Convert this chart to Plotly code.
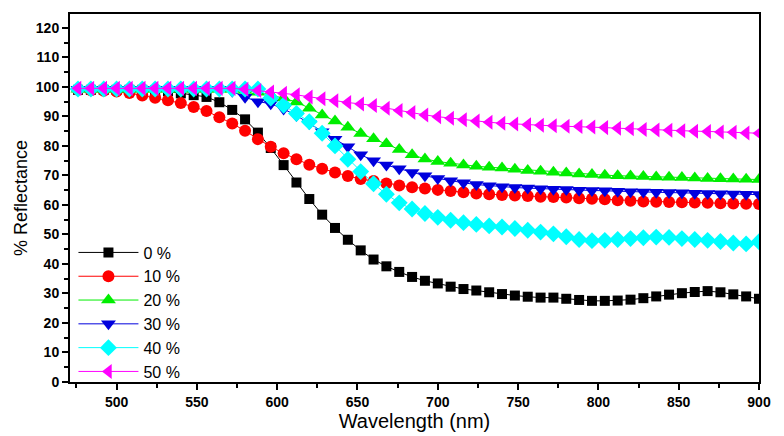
import plotly.graph_objects as go

wavelength = [476, 484, 492, 500, 508, 516, 524, 532, 540, 548, 556, 564, 572, 580, 588, 596,
              604, 612, 620, 628, 636, 644, 652, 660, 668, 676, 684, 692, 700, 708, 716, 724,
              732, 740, 748, 756, 764, 772, 780, 788, 796, 804, 812, 820, 828, 836, 844, 852,
              860, 868, 876, 884, 892, 900]

r0 = [99, 99, 99, 99, 99, 99, 98.8, 98.5, 97.8, 97.2, 96.6, 94.8, 92.2, 89, 84.5, 79.3,
      73.5, 67.6, 62, 56.7, 52.2, 48.2, 44.6, 41.5, 39.2, 37.3, 35.6, 34.3, 33.4, 32.3, 31.5, 31,
      30.4, 29.8, 29.3, 28.9, 28.6, 28.6, 28.2, 27.8, 27.5, 27.5, 27.6, 27.9, 28.4, 29, 29.6, 30.1,
      30.5, 30.8, 30.4, 29.7, 29, 28.2]
r10 = [99, 98.9, 98.7, 98.4, 97.9, 97.1, 96.3, 95.5, 94.5, 93.2, 91.8, 89.7, 87.6, 85.1, 82.3, 79.7,
       77.5, 75.5, 73.6, 72.3, 71, 69.8, 68.8, 68.1, 67.3, 66.6, 66, 65.6, 65.1, 64.7, 64.3, 63.9,
       63.6, 63.4, 63.2, 63, 62.8, 62.7, 62.5, 62.3, 62.1, 61.9, 61.6, 61.4, 61.2, 61.1, 61, 60.9,
       60.8, 60.7, 60.6, 60.5, 60.4, 60.3]
r20 = [99.2, 99.2, 99.2, 99.2, 99.2, 99.2, 99.2, 99.2, 99.2, 99.2, 99.2, 99.2, 99.2, 98.8, 98.2, 97.3,
       96.2, 94.9, 92.8, 90.5, 88.4, 86.3, 84.2, 82.4, 80.7, 78.8, 77, 75.6, 74.7, 74.1, 73.5, 73.1,
       72.8, 72.5, 72.1, 71.7, 71.4, 71.1, 70.8, 70.5, 70.3, 70.1, 69.9, 69.8, 69.6, 69.5, 69.4, 69.3,
       69.1, 69, 68.9, 68.8, 68.7, 68.6]
r30 = [99.2, 99.2, 99.2, 99.2, 99.2, 99.2, 99.2, 99.2, 99.2, 99.2, 99.2, 99.2, 98.5, 96.5, 95, 94.3,
       92.5, 90.3, 87.6, 84.8, 82.3, 79.7, 77, 75, 73.5, 72.3, 71, 69.9, 69, 68.2, 67.5, 66.9,
       66.5, 66.2, 65.9, 65.7, 65.5, 65.3, 65.2, 65, 64.9, 64.8, 64.6, 64.5, 64.4, 64.3, 64.2, 64.1,
       64, 63.9, 63.8, 63.7, 63.6, 63.5]
r40 = [99.3, 99.3, 99.3, 99.3, 99.3, 99.3, 99.3, 99.3, 99.3, 99.3, 99.3, 99.3, 99.3, 99.3, 99.3, 96.2,
       93.8, 91, 88.2, 84.3, 80, 75.5, 71.3, 67.2, 63.6, 60.7, 58.6, 57.1, 55.8, 54.8, 54, 53.4,
       52.9, 52.5, 52, 51.4, 50.8, 50.2, 49.2, 48.3, 47.9, 48, 48.3, 48.6, 48.9, 49.1, 49, 48.6,
       48.3, 48, 47.6, 47.1, 46.8, 47.5]
r50 = [99.5, 99.5, 99.5, 99.5, 99.5, 99.5, 99.5, 99.5, 99.5, 99.5, 99.5, 99.5, 99.5, 99.2, 98.8, 98.3,
       97.8, 97.3, 96.6, 96, 95.3, 94.7, 94.2, 93.7, 92.8, 92, 91.3, 90.5, 89.9, 89.4, 88.9, 88.4,
       88, 87.7, 87.4, 87.2, 87, 86.8, 86.7, 86.6, 86.4, 86.2, 86, 85.8, 85.6, 85.4, 85.3, 85.1,
       85, 84.9, 84.7, 84.6, 84.4, 84.3]

names = ["0 %", "10 %", "20 %", "30 %", "40 %", "50 %"]
series = [r0, r10, r20, r30, r40, r50]
colors = ["#000000", "#ff0000", "#00ee00", "#0000dd", "#00ffff", "#ff00ff"]
symbols = ["square", "circle", "triangle-up", "triangle-down", "diamond", "triangle-left"]
sizes = [10, 12, 13, 13, 13, 13]

xticks = [500, 550, 600, 650, 700, 750, 800, 850, 900]
yticks = list(range(0, 121, 10))

fig = go.Figure()
for n, s, c, sym, sz in zip(names, series, colors, symbols, sizes):
    fig.add_trace(go.Scatter(
        x=wavelength, y=s, name=n, mode="lines+markers",
        line=dict(color=c, width=1),
        marker=dict(symbol=sym, size=sz, color=c, line=dict(width=0)),
    ))

tickfont = dict(family="Liberation Sans, Arial", size=14, color="black")
fig.update_layout(
    width=784, height=436,
    margin=dict(l=70, r=25, t=12, b=50),
    paper_bgcolor="white", plot_bgcolor="white",
    font=dict(family="Liberation Sans, Arial", color="black"),
    legend=dict(x=0.005, y=0.398, xanchor="left", yanchor="top",
                font=dict(size=16, family="Liberation Sans, Arial", color="black"),
                bgcolor="rgba(0,0,0,0)", tracegroupgap=0, itemwidth=60),
    xaxis=dict(range=[471, 900], tickvals=xticks, ticktext=["<b>%d</b>" % v for v in xticks],
               ticks="outside", ticklen=6, tickwidth=2, tickcolor="black",
               minor=dict(dtick=25, tick0=475, ticks="outside", ticklen=4, tickwidth=1.5, tickcolor="black"),
               showline=True, linecolor="black", linewidth=2, mirror=True, showgrid=False,
               zeroline=False, tickfont=tickfont,
               title=dict(text="Wavelength (nm)", font=dict(size=20, family="Liberation Sans, Arial"), standoff=0)),
    yaxis=dict(range=[0, 124.7], tickvals=yticks, ticktext=["<b>%d</b>" % v for v in yticks],
               ticks="outside", ticklen=6, tickwidth=2, tickcolor="black",
               minor=dict(dtick=5, tick0=0, ticks="outside", ticklen=4, tickwidth=1.5, tickcolor="black"),
               showline=True, linecolor="black", linewidth=2, mirror=True, showgrid=False,
               zeroline=False, tickfont=tickfont,
               title=dict(text="% Reflectance", font=dict(size=18, family="Liberation Sans, Arial"), standoff=4)),
)

fig.write_html("out.html")
